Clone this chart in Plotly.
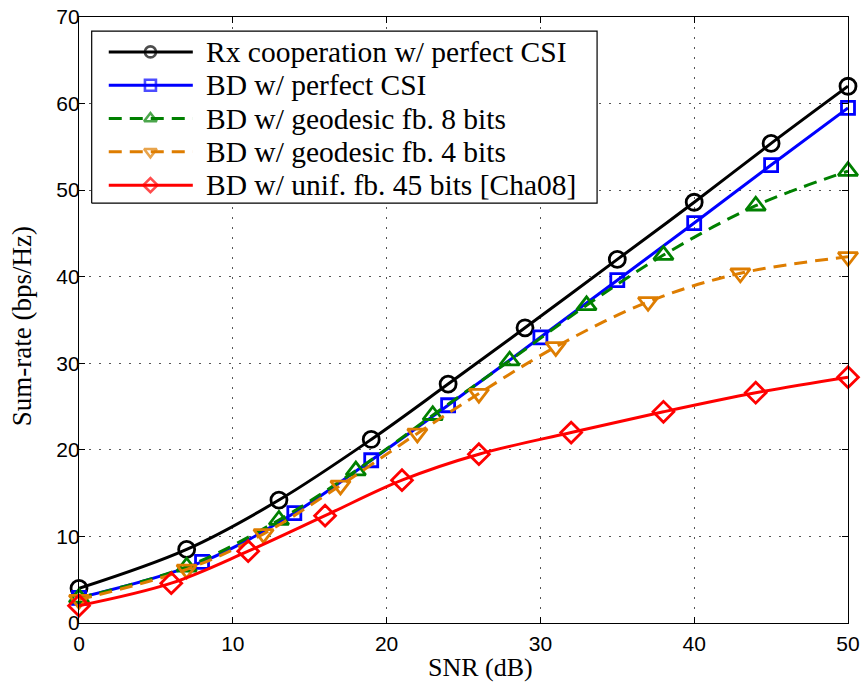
import plotly.graph_objects as go

# SNR (dB) sample points and sum-rate (bps/Hz) for each scheme
snr_rx = [0, 7, 13, 19, 24, 29, 35, 40, 45, 50]
rate_rx = [4.0, 8.5, 14.2, 21.2, 27.6, 34.1, 42.0, 48.6, 55.4, 62.0]

snr_bd = [0, 8, 14, 19, 24, 30, 35, 40, 45, 50]
rate_bd = [2.9, 7.05, 12.7, 18.8, 25.15, 33.0, 39.6, 46.2, 52.9, 59.5]

snr_geo8 = [0, 7, 13, 18, 23, 28, 33, 38, 44, 50]
rate_geo8 = [2.9, 6.5, 11.9, 17.6, 24.0, 30.3, 36.7, 42.5, 48.2, 52.2]

snr_geo4 = [0, 7, 12, 17, 22, 26, 31, 37, 43, 50]
rate_geo4 = [2.7, 6.2, 10.3, 15.9, 21.9, 26.5, 31.9, 37.1, 40.4, 42.3]

snr_unif = [0, 6, 11, 16, 21, 26, 32, 38, 44, 50]
rate_unif = [2.0, 4.6, 8.3, 12.4, 16.5, 19.5, 22.0, 24.4, 26.6, 28.4]

labels = [
    "Rx cooperation w/ perfect CSI",
    "BD w/ perfect CSI",
    "BD w/ geodesic fb. 8 bits",
    "BD w/ geodesic fb. 4 bits",
    "BD w/ unif. fb. 45 bits [Cha08]",
]

x_ticks = [0, 10, 20, 30, 40, 50]
y_ticks = [0, 10, 20, 30, 40, 50, 60, 70]

DASH = "13px,8px"
styles = [
    dict(color="#000000", symbol="circle-open", size=16, dash="solid"),
    dict(color="#0000FF", symbol="square-open", size=13, dash="solid"),
    dict(color="#008000", symbol="triangle-up-open", size=17, dash=DASH),
    dict(color="#DE7D00", symbol="triangle-down-open", size=17, dash=DASH),
    dict(color="#FF0000", symbol="diamond-open", size=16, dash="solid"),
]
data = [
    (snr_rx, rate_rx),
    (snr_bd, rate_bd),
    (snr_geo8, rate_geo8),
    (snr_geo4, rate_geo4),
    (snr_unif, rate_unif),
]

SERIF = "Liberation Serif, Times New Roman, serif"
SANS = "Liberation Sans, Arial, sans-serif"

fig = go.Figure()

for name, (xs, ys), st in zip(labels, data, styles):
    fig.add_trace(go.Scatter(
        x=xs, y=ys, name=name, mode="lines+markers",
        line=dict(color=st["color"], width=3, shape="spline", dash=st["dash"]),
        marker=dict(symbol=st["symbol"], size=st["size"], color=st["color"],
                    line=dict(color=st["color"], width=2.8)),
        cliponaxis=False, showlegend=False,
    ))

# Legend box drawn on an overlay axis pair spanning [0, 1] x [0, 1]
box_x0, box_x1 = 0.0165, 0.6737
box_y0, box_y1 = 0.6927, 0.9766
row_top, row_step = 0.9424, 0.05496
glyph_x0, glyph_xm, glyph_x1 = 0.0387, 0.0929, 0.148
text_x = 0.1623

fig.add_trace(go.Scatter(
    x=[box_x0, box_x1, box_x1, box_x0, box_x0],
    y=[box_y0, box_y0, box_y1, box_y1, box_y0],
    xaxis="x2", yaxis="y2", mode="lines", fill="toself",
    fillcolor="white", line=dict(color="black", width=1.2),
    hoverinfo="skip", showlegend=False,
))

annotations = []
for i, (name, st) in enumerate(zip(labels, styles)):
    yy = row_top - i * row_step
    fig.add_trace(go.Scatter(
        x=[glyph_x0, glyph_xm, glyph_x1], y=[yy, yy, yy],
        xaxis="x2", yaxis="y2", mode="lines+markers",
        line=dict(color=st["color"], width=3, dash=st["dash"]),
        marker=dict(symbol=st["symbol"], size=[0, 11, 0], color=st["color"],
                    line=dict(color=st["color"], width=2.6)),
        hoverinfo="skip", showlegend=False, cliponaxis=False,
    ))
    annotations.append(dict(
        x=text_x, y=yy, xref="paper", yref="paper", text=name,
        showarrow=False, xanchor="left", yanchor="middle",
        font=dict(family=SERIF, size=29.5, color="black"),
    ))

# Axis titles
annotations.append(dict(
    x=0.522, y=-0.074, xref="paper", yref="paper", text="SNR (dB)",
    showarrow=False, xanchor="center", yanchor="middle",
    font=dict(family=SERIF, size=26, color="black"),
))
annotations.append(dict(
    x=-0.074, y=0.49, xref="paper", yref="paper", text="Sum-rate (bps/Hz)",
    showarrow=False, xanchor="center", yanchor="middle", textangle=-90,
    font=dict(family=SERIF, size=27, color="black"),
))

axis_common = dict(
    showline=True, linecolor="black", linewidth=1.3, mirror="ticks",
    ticks="inside", ticklen=6, tickwidth=1, tickcolor="black",
    showgrid=True, gridcolor="#555555", gridwidth=1, griddash="2px,8px",
    zeroline=False, automargin=False,
    tickfont=dict(family=SANS, size=21, color="black"),
)

fig.update_layout(
    width=863, height=683,
    margin=dict(l=79, r=15, t=17, b=60),
    paper_bgcolor="white", plot_bgcolor="white",
    xaxis=dict(range=[0, 50], tickvals=x_ticks, ticklabelstandoff=2, **axis_common),
    yaxis=dict(range=[0, 70], tickvals=y_ticks, ticklabelstandoff=-6, **axis_common),
    xaxis2=dict(overlaying="x", range=[0, 1], visible=False, fixedrange=True),
    yaxis2=dict(overlaying="y", range=[0, 1], visible=False, fixedrange=True),
    annotations=annotations,
    showlegend=False,
)

fig.write_html("out.html")
